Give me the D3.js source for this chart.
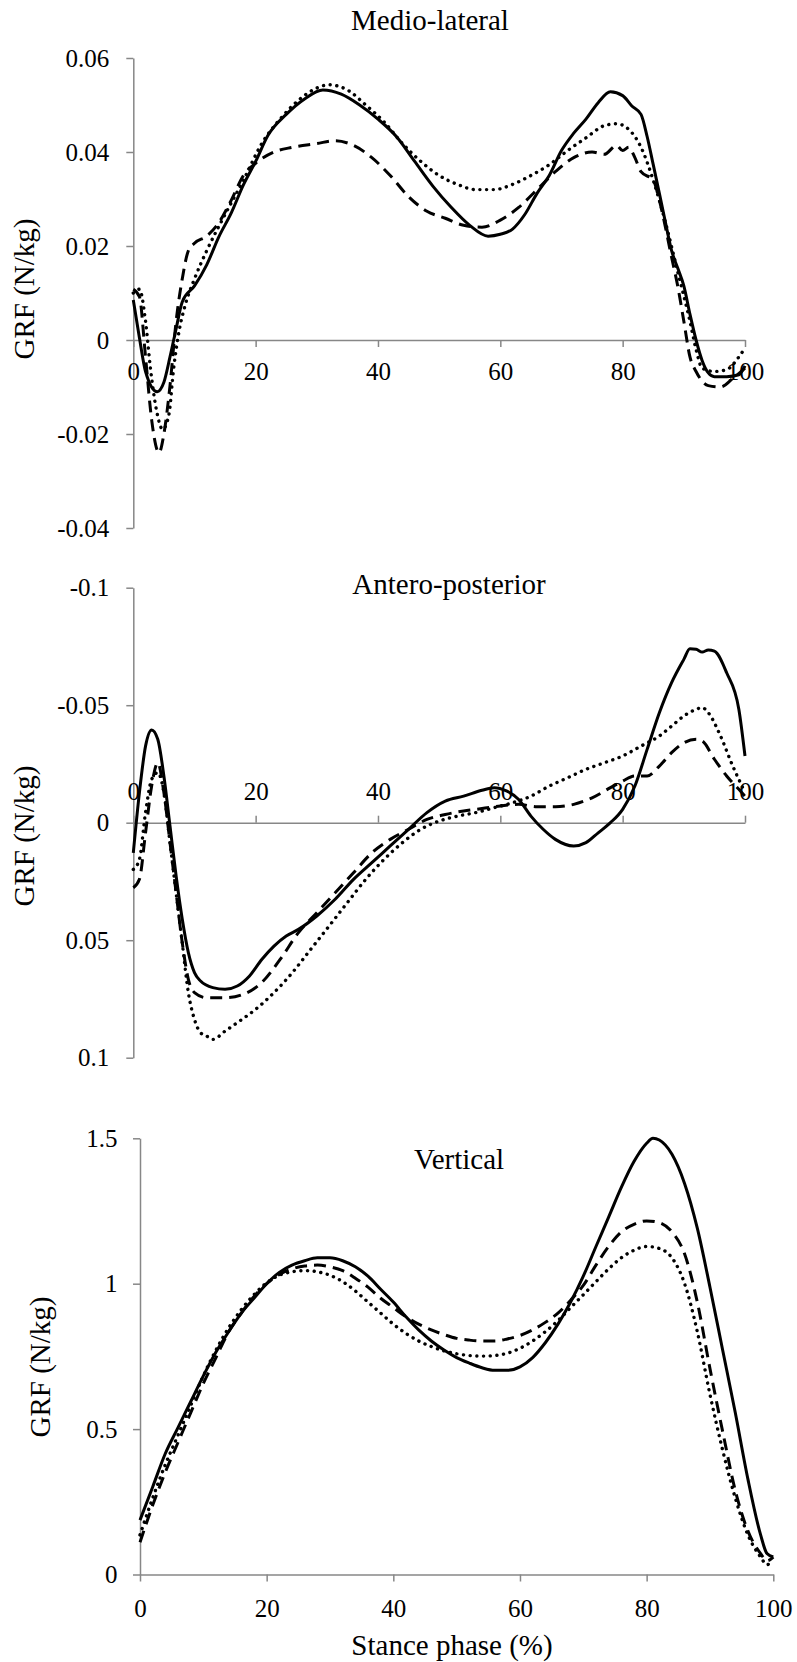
<!DOCTYPE html>
<html lang="en">
  <head>
    <meta charset="UTF-8" />
    <title>GRF</title>
    <script src="https://d3js.org/d3.v7.min.js"></script>
    <style>
      body { margin: 0; background: #fff; }
      svg text { font-family: 'Liberation Serif', 'Times New Roman', serif !important; fill: #000; }
    </style>
  </head>
  <body>
    <div id="chart"></div>
    <script>
      // stance phase ticks
      const xTicks = [0, 20, 40, 60, 80, 100]
      const mlTicks = [-0.04, -0.02, 0, 0.02, 0.04, 0.06]
      const apTicks = [-0.1, -0.05, 0, 0.05, 0.1]
      const vTicks = [0, 0.5, 1, 1.5]

      // Medio-lateral, [stance %, GRF]
      const mlSolid = [[0,0.0085],[1,0.0005],[2,-0.0067],[3.9,-0.011],[5,-0.009],[6,-0.0036],[7,0.0024],[8,0.0081],[10,0.0115],[12,0.016],[14,0.022],[16,0.027],[18,0.033],[20,0.038],[22,0.0435],[25,0.048],[28,0.0513],[31,0.0532],[34,0.0523],[37,0.050],[40,0.047],[43,0.0433],[46,0.038],[49,0.0327],[52,0.0282],[55,0.0244],[58,0.0221],[60,0.0225],[62,0.0236],[64,0.0267],[66,0.0312],[68,0.035],[70,0.0403],[72,0.044],[74,0.047],[76,0.0505],[78,0.0528],[80,0.052],[81.5,0.0498],[83,0.048],[84,0.0433],[85,0.0373],[86,0.0312],[87,0.025],[88,0.019],[89,0.0153],[90,0.0115],[91,0.0055],[92,0],[93,-0.0044],[94,-0.007],[95,-0.0078],[97,-0.0078],[99,-0.0074],[100,-0.0055]]
      const mlDashed = [[0,0.0108],[1,0.0092],[2,-0.0036],[3,-0.017],[4.2,-0.024],[5,-0.02],[6,-0.0097],[7,0.004],[8,0.013],[9,0.019],[10,0.0206],[12,0.0221],[14,0.025],[16,0.0297],[18,0.035],[20,0.0376],[23,0.040],[26,0.041],[30,0.0418],[33,0.0424],[36,0.0414],[39,0.0388],[42,0.035],[45,0.0305],[48,0.0274],[51,0.0259],[54,0.0244],[57,0.024],[60,0.0255],[63,0.0282],[66,0.032],[69,0.0358],[72,0.0388],[75,0.040],[77,0.0395],[79,0.0414],[80,0.0403],[81,0.041],[82,0.0388],[83,0.0358],[85,0.034],[86,0.0297],[88,0.0176],[89,0.0115],[90,0.004],[91,-0.0036],[92,-0.0067],[94,-0.0097],[96,-0.010],[98,-0.0082],[100,-0.006]]
      const mlDotted = [[0,0.010],[1,0.0108],[2,0.004],[2.8,-0.006],[3.8,-0.015],[4.8,-0.019],[5.8,-0.016],[6.6,-0.006],[7.5,0.002],[8.5,0.0075],[10,0.013],[12,0.019],[15,0.0267],[18,0.034],[21,0.0418],[24,0.047],[27,0.051],[30,0.0536],[32,0.0543],[35,0.0532],[38,0.050],[41,0.0464],[44,0.0418],[47,0.038],[50,0.035],[53,0.0331],[56,0.032],[59,0.032],[62,0.0331],[65,0.035],[68,0.0373],[71,0.0403],[74,0.043],[77,0.0456],[79,0.046],[81,0.0448],[83,0.041],[85,0.034],[87,0.025],[89,0.0145],[91,0.004],[92,-0.002],[93,-0.006],[95,-0.0067],[97,-0.0063],[99,-0.0036],[100,-0.0017]]

      // Antero-posterior
      const apSolid = [[0,0.0128],[1,-0.0128],[2,-0.0326],[3,-0.0395],[4,-0.0355],[5,-0.0199],[6,0.0014],[7,0.0227],[8,0.041],[9,0.0553],[10,0.0638],[11,0.0674],[13,0.0702],[15,0.0709],[17,0.0695],[19,0.0652],[21,0.0582],[23,0.0525],[25,0.0482],[27,0.0454],[30,0.0397],[33,0.0326],[36,0.0241],[39,0.017],[42,0.0099],[45,0.0028],[48,-0.0043],[51,-0.0092],[54,-0.0113],[57,-0.0138],[59,-0.0149],[61,-0.0135],[63,-0.0099],[65,-0.0028],[67,0.0028],[69,0.0071],[72,0.0099],[74,0.0085],[76,0.0043],[78,0],[80,-0.0057],[82,-0.0156],[84,-0.0312],[86,-0.0468],[88,-0.0596],[90,-0.0695],[91,-0.074],[92,-0.0738],[93,-0.0726],[94,-0.0735],[95,-0.073],[97,-0.0638],[99,-0.0482],[100,-0.0284]]
      const apDashed = [[0,0.0277],[1,0.0241],[2,0.0043],[3,-0.0156],[4,-0.0255],[5,-0.0128],[6,0.0085],[7,0.0298],[8,0.051],[9,0.0667],[10,0.0723],[12,0.0745],[15,0.0745],[18,0.073],[21,0.068],[24,0.0582],[27,0.0468],[30,0.0383],[33,0.0298],[36,0.0213],[39,0.0128],[42,0.0071],[45,0.0028],[48,-0.0014],[51,-0.0035],[54,-0.005],[57,-0.006],[60,-0.0071],[63,-0.0078],[66,-0.0068],[69,-0.0068],[72,-0.0078],[75,-0.0106],[78,-0.0149],[80,-0.0177],[82,-0.0199],[84,-0.0199],[86,-0.0241],[88,-0.0298],[90,-0.034],[92,-0.0355],[93,-0.0348],[95,-0.027],[97,-0.0199],[99,-0.0142],[100,-0.0113]]
      const apDotted = [[0,0.0199],[1,0.0156],[2,-0.0043],[3,-0.0184],[4,-0.0213],[5,-0.0128],[6,0.0085],[7,0.0298],[8,0.051],[9,0.0723],[10,0.0837],[11,0.0894],[12,0.0908],[13,0.0922],[15,0.0887],[17,0.0851],[20,0.0794],[23,0.0723],[26,0.0638],[29,0.0539],[32,0.044],[35,0.034],[38,0.0241],[41,0.0156],[44,0.0085],[47,0.0028],[50,-0.0007],[53,-0.0028],[56,-0.0043],[59,-0.0064],[62,-0.0085],[65,-0.0113],[68,-0.0156],[71,-0.0191],[74,-0.0227],[77,-0.0255],[80,-0.0284],[83,-0.0326],[86,-0.0369],[88,-0.0411],[90,-0.0454],[92,-0.0482],[93,-0.049],[94,-0.0468],[96,-0.0369],[98,-0.0241],[99,-0.0184],[100,-0.0128]]

      // Vertical
      const vSolid = [[0,0.187],[2,0.301],[4,0.416],[6,0.505],[8,0.594],[10,0.683],[12,0.765],[14,0.835],[16,0.899],[18,0.95],[20,1.0],[22,1.039],[24,1.064],[26,1.079],[28,1.089],[30,1.089],[32,1.079],[34,1.058],[36,1.026],[38,0.981],[40,0.937],[42,0.886],[44,0.841],[46,0.803],[48,0.772],[50,0.746],[52,0.727],[54,0.711],[56,0.702],[58,0.702],[60,0.714],[62,0.746],[64,0.797],[66,0.861],[68,0.937],[70,1.026],[72,1.128],[74,1.229],[76,1.331],[78,1.42],[80,1.483],[81,1.5],[82,1.494],[84,1.445],[86,1.344],[88,1.191],[90,0.988],[92,0.772],[94,0.556],[96,0.327],[98,0.136],[99,0.072],[100,0.06]]
      const vDashed = [[0,0.111],[2,0.238],[4,0.352],[6,0.454],[8,0.556],[10,0.657],[12,0.746],[14,0.835],[16,0.899],[18,0.956],[20,1.0],[22,1.032],[24,1.051],[26,1.061],[28,1.064],[30,1.058],[32,1.045],[34,1.019],[36,0.988],[38,0.95],[40,0.918],[42,0.886],[44,0.861],[46,0.841],[48,0.825],[50,0.812],[52,0.806],[54,0.803],[56,0.803],[58,0.81],[60,0.822],[62,0.841],[64,0.867],[66,0.899],[68,0.943],[70,0.994],[72,1.064],[74,1.128],[76,1.178],[78,1.204],[80,1.216],[82,1.21],[84,1.178],[86,1.102],[88,0.937],[90,0.708],[92,0.492],[94,0.289],[96,0.149],[98,0.072],[99,0.047],[100,0.06]]
      const vDotted = [[0,0.136],[2,0.263],[4,0.378],[6,0.479],[8,0.581],[10,0.683],[12,0.772],[14,0.848],[16,0.911],[18,0.962],[20,1.003],[22,1.029],[24,1.041],[26,1.045],[28,1.041],[30,1.029],[32,1.007],[34,0.975],[36,0.937],[38,0.899],[40,0.861],[42,0.829],[44,0.803],[46,0.784],[48,0.769],[50,0.759],[52,0.753],[54,0.751],[56,0.753],[58,0.761],[60,0.778],[62,0.803],[64,0.835],[66,0.873],[68,0.918],[70,0.962],[72,1.007],[74,1.051],[76,1.089],[78,1.115],[80,1.128],[82,1.121],[84,1.089],[86,1.0],[88,0.835],[90,0.619],[92,0.428],[94,0.263],[96,0.136],[98,0.06],[99,0.034],[100,0.047]]

      const svg = d3
        .select('#chart')
        .append('svg')
        .attr('width', 797)
        .attr('height', 1662)
        .style('font-family', "'Liberation Serif', serif")

      const fmt = d => String(+d.toFixed(2))

      const styles = [
        { dash: null, cap: 'butt' },
        { dash: '12,7', cap: 'butt' },
        { dash: '0.1,6.6', cap: 'round' }
      ]

      function drawPanel(p) {
        const x = d3.scaleLinear().domain([0, 100]).range([p.left, p.right])
        const y = d3.scaleLinear().domain(p.yDomain).range(p.yRange)
        const g = svg.append('g')

        // y axis
        g.append('g')
          .attr('transform', `translate(${p.left},0)`)
          .call(
            d3
              .axisLeft(y)
              .tickValues(p.yTicks)
              .tickFormat(fmt)
              .tickSize(7)
              .tickSizeOuter(0)
              .tickPadding(p.yPad)
          )

        // x axis (bottom or top)
        const xAx = p.xTop ? d3.axisTop(x) : d3.axisBottom(x)
        g.append('g')
          .attr('transform', `translate(0,${y(p.xAt)})`)
          .call(
            xAx
              .tickValues(xTicks)
              .tickFormat(d3.format('d'))
              .tickSize(7)
              .tickSizeOuter(0)
              .tickPadding(p.xPad)
          )

        g.selectAll('g')
          .attr('font-family', null)
          .style('font-family', "'Liberation Serif', serif")
        g.selectAll('.domain, .tick line')
          .attr('stroke', '#878787')
          .attr('stroke-width', 1.5)
        g.selectAll('.tick text')
          .style('font-family', "'Liberation Serif', serif")
          .style('font-size', '25px')
          .attr('fill', '#000')

        // title
        g.append('text')
          .attr('x', p.titleX)
          .attr('y', p.titleY)
          .attr('text-anchor', 'middle')
          .style('font-size', '29px')
          .text(p.title)

        // y title
        g.append('text')
          .attr('transform', `translate(${p.yTitleX},${p.yTitleY}) rotate(-90)`)
          .attr('text-anchor', 'middle')
          .style('font-size', '29px')
          .text('GRF (N/kg)')

        const line = d3
          .line()
          .x(d => x(d[0]))
          .y(d => y(d[1]))
          .curve(d3.curveMonotoneX)

        // draw dotted, dashed, solid
        ;[2, 1, 0].forEach(i => {
          g.append('path')
            .datum(p.series[i])
            .attr('fill', 'none')
            .attr('stroke', '#000')
            .attr('stroke-width', i === 2 ? 3.4 : 3)
            .attr('stroke-linecap', styles[i].cap)
            .attr('stroke-linejoin', 'round')
            .attr('stroke-dasharray', styles[i].dash)
            .attr('d', line)
        })
      }

      drawPanel({
        left: 133.3, right: 745,
        yDomain: [-0.04, 0.06], yRange: [528, 58],
        yTicks: mlTicks, yPad: 17,
        xAt: 0, xTop: false, xPad: 15,
        title: 'Medio-lateral', titleX: 430, titleY: 30,
        yTitleX: 34, yTitleY: 289,
        series: [mlSolid, mlDashed, mlDotted]
      })

      drawPanel({
        left: 133.3, right: 745,
        yDomain: [-0.1, 0.1], yRange: [587.7, 1057.7],
        yTicks: apTicks, yPad: 17,
        xAt: 0, xTop: true, xPad: 15.7,
        title: 'Antero-posterior', titleX: 449, titleY: 594,
        yTitleX: 34, yTitleY: 836,
        series: [apSolid, apDashed, apDotted]
      })

      drawPanel({
        left: 140, right: 773.3,
        yDomain: [0, 1.5], yRange: [1574.5, 1138.3],
        yTicks: vTicks, yPad: 15.6,
        xAt: 0, xTop: false, xPad: 17.5,
        title: 'Vertical', titleX: 459, titleY: 1169,
        yTitleX: 50, yTitleY: 1367,
        series: [vSolid, vDashed, vDotted]
      })

      // x axis title
      svg.append('text')
        .attr('x', 452)
        .attr('y', 1655)
        .attr('text-anchor', 'middle')
        .style('font-size', '29px')
        .text('Stance phase (%)')
    </script>
  </body>
</html>
